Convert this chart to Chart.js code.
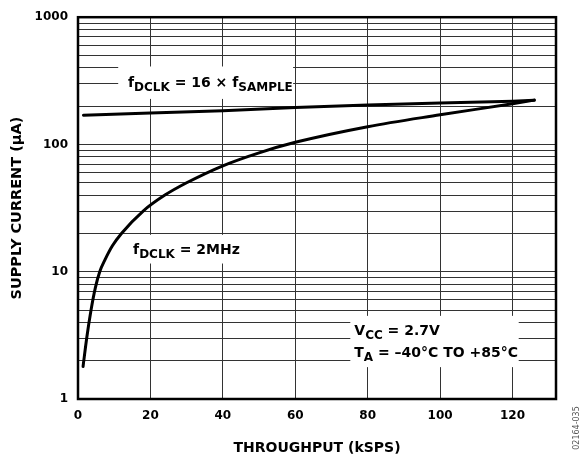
<!DOCTYPE html>
<html>
<head>
<meta charset="utf-8">
<script src="https://cdn.jsdelivr.net/npm/chart.js@4"></script>
<style>
  html, body { margin: 0; padding: 0; background: #fff; }
  canvas { display: block; }
</style>
</head>
<body>
<canvas id="currentChart" width="579" height="457"></canvas>
<script>
// values
const x16 = [1.5, 20, 40, 60, 80, 100, 120, 126];
const y16 = [170, 177, 184, 195, 204, 212, 219, 223];

const x2m = [1.4, 2.4, 3.6, 4.8, 6, 7.5, 9.5, 12, 18, 24, 30, 40, 50, 60, 80, 100, 120, 126];
const y2m = [1.8, 3, 5, 7.5, 10, 12.5, 16, 20, 30, 40, 50, 68, 86, 104, 138, 171, 209, 223];

const xTicks = [0, 20, 40, 60, 80, 100, 120];
const yGrid = [1, 2, 3, 4, 5, 6, 7, 8, 9,
    10, 20, 30, 40, 50, 60, 70, 80, 90,
    100, 200, 300, 400, 500, 600, 700, 800, 900, 1000];
const yLabels = [1, 10, 100, 1000];

const FONT = '"DejaVu Sans", sans-serif';

// text boxes inside the plot (data units), runs = [text, isSubscript]
const notes = [
    {
        box: [11.1, 59.4, 410, 228],
        at: [13.8, 283],
        lines: [[['f', 0], ['DCLK', 1], [' = 16 × f', 0], ['SAMPLE', 1]]]
    },
    {
        box: [13.8, 45.4, 19.5, 11.6],
        at: [15.2, 13.8],
        lines: [[['f', 0], ['DCLK', 1], [' = 2MHz', 0]]]
    },
    {
        box: [75.2, 121.7, 4.5, 1.78],
        at: [76.3, 3.18],
        lines: [
            [['V', 0], ['CC', 1], [' = 2.7V', 0]],
            [['T', 0], ['A', 1], [' = –40°C TO +85°C', 0]]
        ]
    }
];

const plotExtras = {
    id: 'plotExtras',
    beforeDatasetsDraw(chart) {
        const { ctx, chartArea: a, scales: { x, y } } = chart;
        ctx.save();
        ctx.fillStyle = '#fff';
        notes.forEach(n => {
            const x0 = x.getPixelForValue(n.box[0]);
            const x1 = x.getPixelForValue(n.box[1]);
            const y0 = y.getPixelForValue(n.box[2]);
            const y1 = y.getPixelForValue(n.box[3]);
            ctx.fillRect(x0, y0, x1 - x0, y1 - y0);
        });
        ctx.strokeStyle = '#000';
        ctx.lineWidth = 2.5;
        ctx.strokeRect(a.left, a.top, a.right - a.left, a.bottom - a.top);
        ctx.restore();
    },
    afterDatasetsDraw(chart) {
        const { ctx, scales: { x, y } } = chart;
        ctx.save();
        ctx.fillStyle = '#000';
        ctx.textAlign = 'left';
        ctx.textBaseline = 'alphabetic';
        notes.forEach(n => {
            const left = x.getPixelForValue(n.at[0]);
            let base = y.getPixelForValue(n.at[1]);
            n.lines.forEach(runs => {
                let cx = left;
                runs.forEach(([t, sub]) => {
                    ctx.font = `bold ${sub ? 12 : 14}px ${FONT}`;
                    ctx.fillText(t, cx, base + (sub ? 4 : 0));
                    cx += ctx.measureText(t).width;
                });
                base += 21.5;
            });
        });
        // figure id at the lower right
        ctx.translate(577, 428);
        ctx.rotate(-Math.PI / 2);
        ctx.font = `8px ${FONT}`;
        ctx.fillStyle = '#555';
        ctx.textAlign = 'center';
        ctx.textBaseline = 'middle';
        ctx.fillText('02164-035', 0, 0);
        ctx.restore();
    }
};

const ctx = document.getElementById('currentChart').getContext('2d');

new Chart(ctx, {
    type: 'line',
    data: {
        datasets: [
            {
                label: 'fDCLK = 16 × fSAMPLE',
                data: x16.map((v, i) => ({ x: v, y: y16[i] })),
                borderColor: '#000',
                borderWidth: 3,
                borderCapStyle: 'round',
                pointRadius: 0,
                tension: 0
            },
            {
                label: 'fDCLK = 2MHz',
                data: x2m.map((v, i) => ({ x: v, y: y2m[i] })),
                borderColor: '#000',
                borderWidth: 3,
                borderCapStyle: 'round',
                pointRadius: 0,
                cubicInterpolationMode: 'monotone'
            }
        ]
    },
    options: {
        responsive: false,
        animation: false,
        layout: { padding: { top: 17, right: 23, left: 0, bottom: 0 } },
        plugins: {
            legend: { display: false },
            tooltip: { enabled: false }
        },
        scales: {
            x: {
                type: 'linear',
                min: 0,
                max: 132,
                afterBuildTicks: s => { s.ticks = xTicks.map(v => ({ value: v })); },
                afterFit: s => { s.height = 58; },
                grid: { color: '#333', lineWidth: 1, drawTicks: false },
                border: { display: false },
                ticks: {
                    color: '#000',
                    padding: 10,
                    autoSkip: false,
                    maxRotation: 0,
                    font: { family: FONT, size: 12, weight: 'bold' }
                },
                title: {
                    display: true,
                    text: 'THROUGHPUT (kSPS)',
                    color: '#000',
                    padding: { top: 0, bottom: 0 },
                    font: { family: FONT, size: 14, weight: 'bold' }
                }
            },
            y: {
                type: 'logarithmic',
                min: 1,
                max: 1000,
                afterBuildTicks: s => { s.ticks = yGrid.map(v => ({ value: v })); },
                afterFit: s => { s.width = 78; },
                grid: { color: '#333', lineWidth: 1, drawTicks: false },
                border: { display: false },
                ticks: {
                    color: '#000',
                    padding: 10,
                    autoSkip: false,
                    font: { family: FONT, size: 12, weight: 'bold' },
                    callback: v => yLabels.includes(v) ? String(v) : ''
                },
                title: {
                    display: true,
                    text: 'SUPPLY CURRENT (µA)',
                    color: '#000',
                    padding: { top: 9, bottom: 0 },
                    font: { family: FONT, size: 14.5, weight: 'bold' }
                }
            }
        }
    },
    plugins: [plotExtras]
});
</script>
</body>
</html>
